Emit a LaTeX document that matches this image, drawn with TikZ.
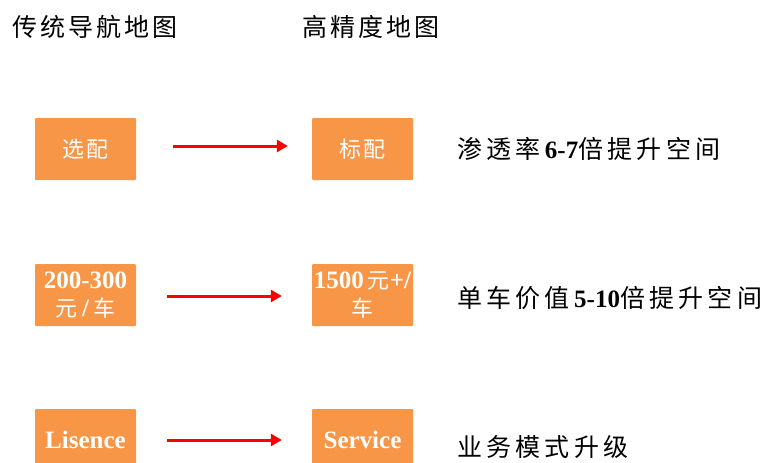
\documentclass[tikz,border=0pt]{standalone}
\usepackage{fontspec}
\setmainfont{Liberation Serif}
\newfontfamily\cjk[LetterSpace=12]{Noto Sans CJK SC}
\newfontfamily\cjknote[LetterSpace=17]{Noto Sans CJK SC}
\usetikzlibrary{arrows.meta}
\definecolor{boxorange}{HTML}{F79646}
\definecolor{arrred}{HTML}{FF0000}
\newcommand\bc[1]{{\fontsize{22}{28}\selectfont\mdseries\cjk #1}}
\begin{document}
\begin{tikzpicture}[x=1pt,y=-1pt,
  box/.style={fill=boxorange, rounded corners=1pt, minimum width=101pt, minimum height=62pt,
    inner sep=0pt, text=white, align=center, font=\fontsize{25}{28}\selectfont\bfseries},
  arr/.style={draw=arrred, line width=3pt, -{Triangle[length=11pt,width=12pt]}},
  head/.style={anchor=west, inner sep=0pt, font=\fontsize{25}{28}\selectfont\cjk},
  note/.style={anchor=west, inner sep=0pt, font=\fontsize{25}{28}\selectfont}
]
\path[use as bounding box] (0,0) rectangle (766,463);
\clip (0,0) rectangle (766,463);
\fill[white] (0,0) rectangle (766,463);

\node[head] (h1) at (12,27) {传统导航地图};
\node[head] (h2) at (302,27) {高精度地图};

\node[box] (a1) at (85.5,149) {\bc{选配}};
\node[box] (b1) at (362.5,149) {\bc{标配}};
\node[box] (a2) at (85.5,295) {200-300\\\bc{元}\,/\,\bc{车}};
\node[box] (b2) at (362.5,295) {1500\,\bc{元}+/\\\bc{车}};
\node[box] (a3) at (85.5,440) {Lisence};
\node[box] (b3) at (362.5,440) {Service};

\draw[arr] ([xshift=37pt,yshift=3pt]a1.east) -- ([xshift=-24pt,yshift=3pt]b1.west);
\draw[arr] ([xshift=31pt,yshift=-1pt]a2.east) -- ([xshift=-30pt,yshift=-1pt]b2.west);
\draw[arr] ([xshift=31pt]a3.east) -- ([xshift=-30pt]b3.west);

\node[note] (t1) at (457,149) {{\cjknote 渗透率}\textbf{6-7}{\cjknote 倍提升空间}};
\node[note] (t2) at (457,298) {{\cjknote 单车价值}\textbf{5-10}{\cjknote 倍提升空间}};
\node[note] (t3) at (457,447) {{\cjknote 业务模式升级}};
\end{tikzpicture}
\end{document}
